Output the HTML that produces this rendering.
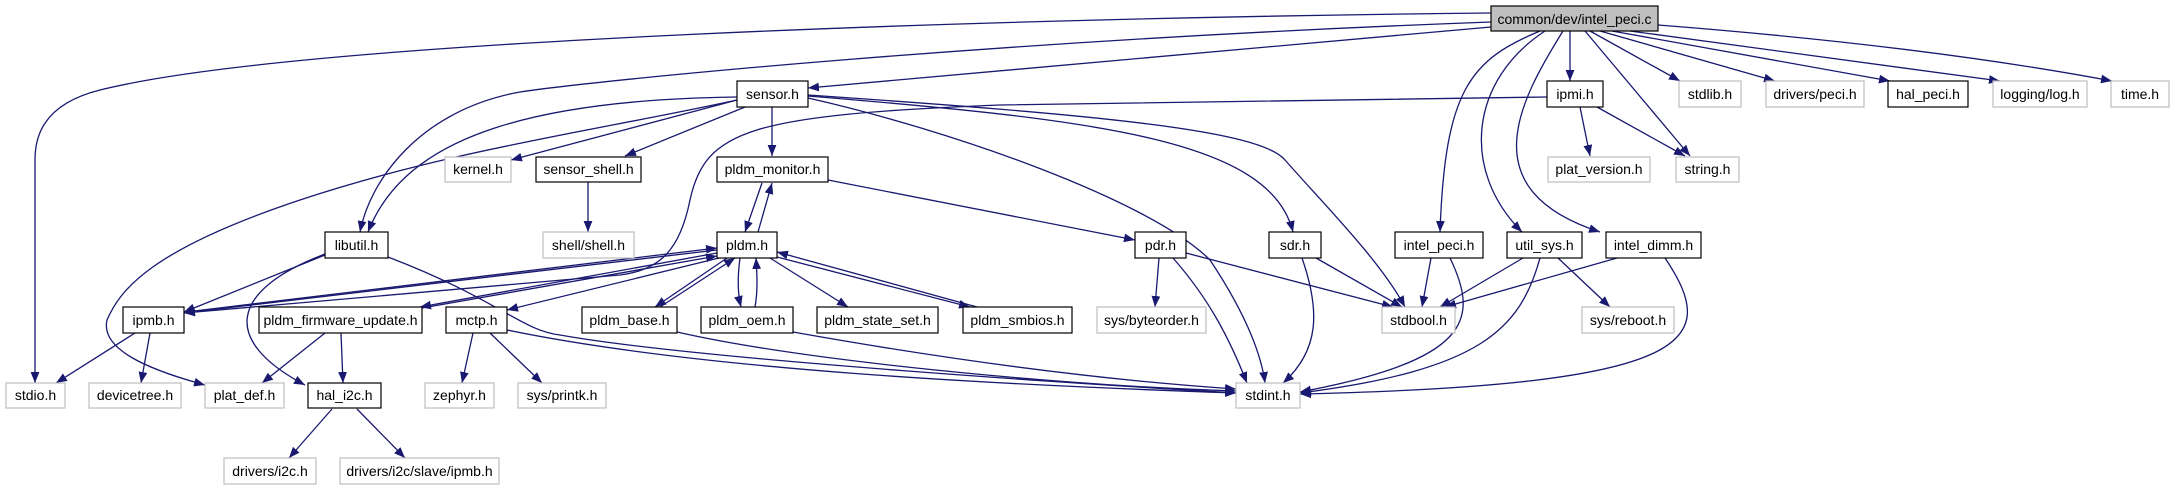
<!DOCTYPE html>
<html><head><meta charset="utf-8"><style>
html,body{margin:0;padding:0;background:#fff;}
svg text{font-family:"Liberation Sans",Arial,sans-serif;font-size:14px;text-anchor:middle;fill:#000;}
</style></head><body>
<svg width="2175" height="485" viewBox="0 0 2175 485" xmlns="http://www.w3.org/2000/svg">
<defs>
<marker id="a" viewBox="0 0 10 8" refX="10" refY="4" markerWidth="11" markerHeight="9" markerUnits="userSpaceOnUse" orient="auto">
<path d="M0,0 L10,4 L0,8 z" fill="#191970"/>
</marker>
</defs>
<g fill="none" stroke="#191970" stroke-width="1.3" marker-end="url(#a)">
<!-- root edges -->
<path d="M1491,13 C1000,18 300,40 100,90 C40,105 35,140 35,160 L35,383"/>
<path d="M1491,22 C1000,40 600,80 520,92 C420,110 370,180 360,232"/>
<path d="M1491,27 L808,88"/>
<path d="M1570,31 L1570,81"/>
<path d="M1590,31 L1680,81"/>
<path d="M1585,31 L1690,156"/>
<path d="M1600,31 L1775,81"/>
<path d="M1612,31 L1890,81"/>
<path d="M1630,31 L2000,81"/>
<path d="M1658,25 C1850,40 2000,60 2112,81"/>
<path d="M1540,31 C1470,60 1445,90 1440,232"/>
<path d="M1545,31 C1470,80 1460,170 1522,232"/>
<path d="M1563,31 C1520,100 1470,190 1600,232"/>
<!-- ipmi -->
<path d="M1580,107 L1590,156"/>
<path d="M1597,107 L1685,156"/>
<path d="M1547,97 L1000,105 C750,115 705,130 690,200 C680,250 660,270 620,275 L184,313"/>
<!-- sensor -->
<path d="M737,100 L511,160"/>
<path d="M745,107 L625,156"/>
<path d="M737,97 C500,100 400,150 368,232"/>
<path d="M737,100 C600,130 450,150 300,200 C150,250 120,290 107,320 C100,350 150,370 205,385"/>
<path d="M772,107 L772,156"/>
<path d="M808,98 C950,130 1150,200 1210,260 C1250,320 1262,360 1265,383"/>
<path d="M808,96 C1100,120 1270,140 1293,232"/>
<path d="M808,95 C1100,115 1260,130 1285,160 C1320,200 1380,260 1405,307"/>
<path d="M588,182 L588,232"/>
<!-- pldm_monitor -->
<path d="M762,183 L745,232"/>
<path d="M758,232 L772,183"/>
<path d="M828,180 L1135,240"/>
<!-- libutil -->
<path d="M325,255 L184,312"/>
<path d="M325,254 C230,290 220,340 305,385"/>
<path d="M388,257 C500,300 520,330 560,335 C700,360 1100,385 1236,393"/>
<!-- pldm -->
<path d="M717,250 L184,313"/>
<path d="M186,312 L717,248"/>
<path d="M717,253 L420,307"/>
<path d="M422,308 L717,256"/>
<path d="M719,258 L507,310"/>
<path d="M727,258 L655,307"/>
<path d="M660,307 L735,258"/>
<path d="M740,258 C737,280 738,295 741,307"/>
<path d="M755,307 C758,290 757,275 756,258"/>
<path d="M770,258 L848,307"/>
<path d="M977,307 L777,252"/>
<path d="M777,257 L970,307"/>
<!-- firmware -->
<path d="M325,333 L262,383"/>
<path d="M341,333 L343,383"/>
<!-- ipmb -->
<path d="M135,333 L56,383"/>
<path d="M150,333 L141,383"/>
<!-- mctp -->
<path d="M473,333 L462,383"/>
<path d="M490,333 L542,383"/>
<path d="M507,330 C700,370 1000,385 1236,393"/>
<!-- hal_i2c -->
<path d="M332,409 L289,458"/>
<path d="M357,409 L405,458"/>
<!-- pldm_base / oem -->
<path d="M677,332 C800,360 1050,385 1236,391"/>
<path d="M793,332 C950,360 1100,380 1236,389"/>
<!-- pdr -->
<path d="M1159,258 L1155,307"/>
<path d="M1173,258 C1210,300 1230,340 1247,383"/>
<path d="M1186,253 L1393,307"/>
<!-- sdr -->
<path d="M1316,258 L1402,307"/>
<path d="M1302,258 C1320,310 1320,350 1283,383"/>
<!-- intel_peci.h -->
<path d="M1431,258 L1422,307"/>
<path d="M1450,258 C1480,320 1470,360 1300,392"/>
<!-- util_sys -->
<path d="M1523,258 L1440,307"/>
<path d="M1540,258 C1520,330 1480,370 1300,393"/>
<path d="M1558,258 L1610,307"/>
<!-- intel_dimm -->
<path d="M1617,258 L1445,307"/>
<path d="M1665,258 C1720,340 1700,385 1300,394"/>
</g>
<!-- nodes -->
<g stroke-width="1.2">
<rect x="1491" y="6" width="167" height="25" fill="#bfbfbf" stroke="#000"/><text x="1574.5" y="24">common/dev/intel_peci.c</text>
<rect x="737" y="81" width="71" height="26" fill="#fff" stroke="#000"/><text x="772.5" y="99">sensor.h</text>
<rect x="1547" y="81" width="56" height="26" fill="#fff" stroke="#000"/><text x="1575" y="99">ipmi.h</text>
<rect x="1679" y="81" width="62" height="26" fill="#fff" stroke="#bfbfbf"/><text x="1710" y="99">stdlib.h</text>
<rect x="1766" y="81" width="98" height="26" fill="#fff" stroke="#bfbfbf"/><text x="1815" y="99">drivers/peci.h</text>
<rect x="1888" y="81" width="80" height="26" fill="#fff" stroke="#000"/><text x="1928" y="99">hal_peci.h</text>
<rect x="1993" y="81" width="94" height="26" fill="#fff" stroke="#bfbfbf"/><text x="2040" y="99">logging/log.h</text>
<rect x="2111" y="81" width="58" height="26" fill="#fff" stroke="#bfbfbf"/><text x="2140" y="99">time.h</text>

<rect x="445" y="157" width="66" height="25" fill="#fff" stroke="#bfbfbf"/><text x="478" y="174">kernel.h</text>
<rect x="536" y="157" width="105" height="25" fill="#fff" stroke="#000"/><text x="588.5" y="174">sensor_shell.h</text>
<rect x="717" y="157" width="111" height="25" fill="#fff" stroke="#000"/><text x="772.5" y="174">pldm_monitor.h</text>
<rect x="1548" y="157" width="102" height="25" fill="#fff" stroke="#bfbfbf"/><text x="1599" y="174">plat_version.h</text>
<rect x="1676" y="157" width="63" height="25" fill="#fff" stroke="#bfbfbf"/><text x="1707.5" y="174">string.h</text>

<rect x="325" y="232" width="63" height="26" fill="#fff" stroke="#000"/><text x="356.5" y="250">libutil.h</text>
<rect x="543" y="232" width="91" height="26" fill="#fff" stroke="#bfbfbf"/><text x="588.5" y="250">shell/shell.h</text>
<rect x="717" y="232" width="60" height="26" fill="#fff" stroke="#000"/><text x="747" y="250">pldm.h</text>
<rect x="1135" y="232" width="51" height="26" fill="#fff" stroke="#000"/><text x="1160.5" y="250">pdr.h</text>
<rect x="1269" y="232" width="52" height="26" fill="#fff" stroke="#000"/><text x="1295" y="250">sdr.h</text>
<rect x="1395" y="232" width="88" height="26" fill="#fff" stroke="#000"/><text x="1439" y="250">intel_peci.h</text>
<rect x="1507" y="232" width="75" height="26" fill="#fff" stroke="#000"/><text x="1544.5" y="250">util_sys.h</text>
<rect x="1606" y="232" width="95" height="26" fill="#fff" stroke="#000"/><text x="1653.5" y="250">intel_dimm.h</text>

<rect x="123" y="307" width="61" height="26" fill="#fff" stroke="#000"/><text x="153.5" y="325">ipmb.h</text>
<rect x="259" y="307" width="163" height="26" fill="#fff" stroke="#000"/><text x="340.5" y="325">pldm_firmware_update.h</text>
<rect x="446" y="307" width="61" height="26" fill="#fff" stroke="#000"/><text x="476.5" y="325">mctp.h</text>
<rect x="582" y="307" width="95" height="26" fill="#fff" stroke="#000"/><text x="629.5" y="325">pldm_base.h</text>
<rect x="701" y="307" width="92" height="26" fill="#fff" stroke="#000"/><text x="747" y="325">pldm_oem.h</text>
<rect x="817" y="307" width="121" height="26" fill="#fff" stroke="#000"/><text x="877.5" y="325">pldm_state_set.h</text>
<rect x="963" y="307" width="109" height="26" fill="#fff" stroke="#000"/><text x="1017.5" y="325">pldm_smbios.h</text>
<rect x="1097" y="307" width="109" height="26" fill="#fff" stroke="#bfbfbf"/><text x="1151.5" y="325">sys/byteorder.h</text>
<rect x="1382" y="307" width="73" height="26" fill="#fff" stroke="#bfbfbf"/><text x="1418.5" y="325">stdbool.h</text>
<rect x="1582" y="307" width="92" height="26" fill="#fff" stroke="#bfbfbf"/><text x="1628" y="325">sys/reboot.h</text>

<rect x="6" y="383" width="59" height="25" fill="#fff" stroke="#bfbfbf"/><text x="35.5" y="400">stdio.h</text>
<rect x="89" y="383" width="92" height="25" fill="#fff" stroke="#bfbfbf"/><text x="135" y="400">devicetree.h</text>
<rect x="205" y="383" width="79" height="25" fill="#fff" stroke="#bfbfbf"/><text x="244.5" y="400">plat_def.h</text>
<rect x="308" y="383" width="73" height="25" fill="#fff" stroke="#000"/><text x="344.5" y="400">hal_i2c.h</text>
<rect x="425" y="383" width="69" height="25" fill="#fff" stroke="#bfbfbf"/><text x="459.5" y="400">zephyr.h</text>
<rect x="518" y="383" width="88" height="25" fill="#fff" stroke="#bfbfbf"/><text x="562" y="400">sys/printk.h</text>
<rect x="1236" y="383" width="64" height="25" fill="#fff" stroke="#bfbfbf"/><text x="1268" y="400">stdint.h</text>

<rect x="224" y="458" width="92" height="26" fill="#fff" stroke="#bfbfbf"/><text x="270" y="476">drivers/i2c.h</text>
<rect x="340" y="458" width="159" height="26" fill="#fff" stroke="#bfbfbf"/><text x="419.5" y="476">drivers/i2c/slave/ipmb.h</text>
</g>
</svg>
</body></html>
